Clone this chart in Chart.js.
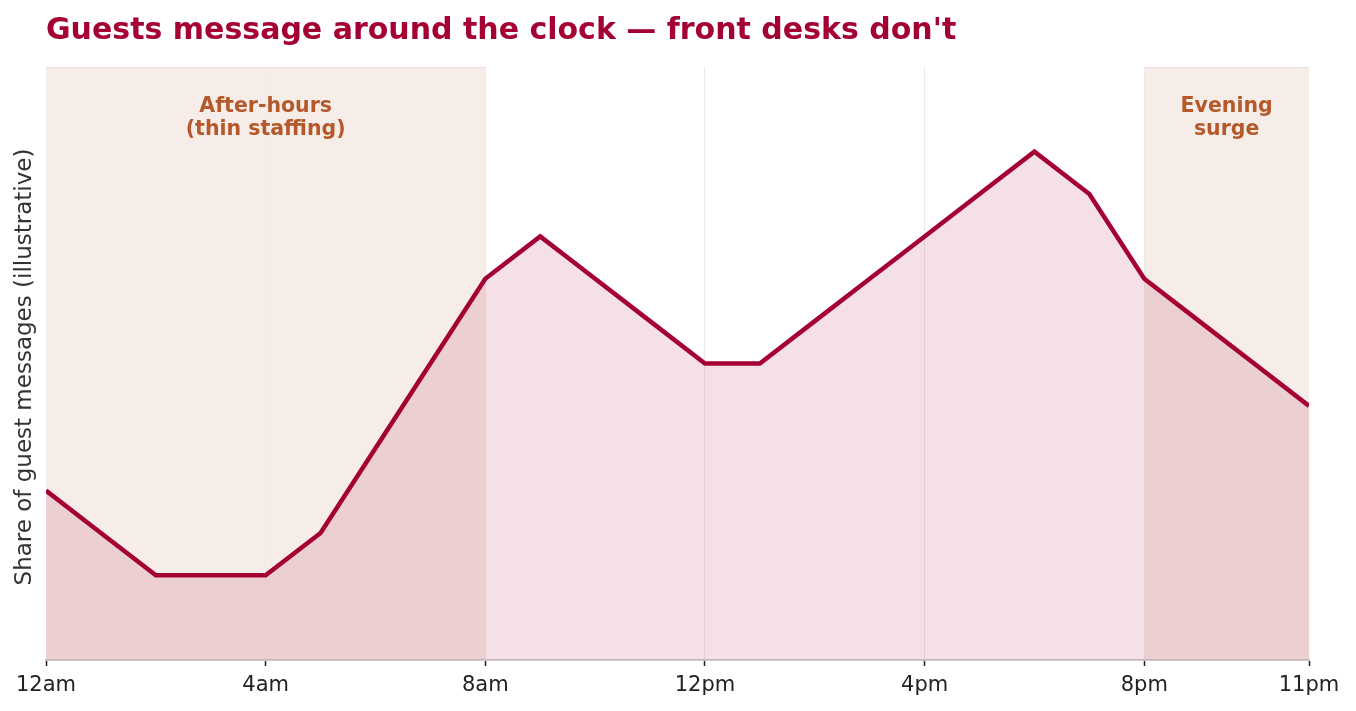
<!DOCTYPE html>
<html>
<head>
<meta charset="utf-8">
<script src="https://cdn.jsdelivr.net/npm/chart.js@4/dist/chart.umd.min.js"></script>
<style>
  html, body { margin: 0; padding: 0; background: #ffffff; }
  #wrap { position: relative; width: 1356px; height: 711px; }
</style>
</head>
<body>
<div id="wrap"><canvas id="c"></canvas></div>
<script>
// ---- data ----
const hours = [0,1,2,3,4,5,6,7,8,9,10,11,12,13,14,15,16,17,18,19,20,21,22,23];
const shareValues = [4,3,2,2,2,3,5,7,9,10,9,8,7,7,8,9,10,11,12,11,9,8,7,6];
const tickHours = [0,4,8,12,16,20,23];
const tickLabels = ['12am','4am','8am','12pm','4pm','8pm','11pm'];
const shadedRanges = [[0,8],[20,23]];
const shadedNotes = [['After-hours','(thin staffing)'],['Evening','surge']];
const titleText = "Guests message around the clock \u2014 front desks don't";
const yTitleText = 'Share of guest messages (illustrative)';

const FONT = '"DejaVu Sans", "Liberation Sans", sans-serif';

const bgPlugin = {
  id: 'bgRegions',
  beforeDraw(chart) {
    const { ctx, chartArea: a, scales: { x } } = chart;
    ctx.save();
    shadedRanges.forEach(([s, e]) => {
      const x0 = x.getPixelForValue(s), x1 = x.getPixelForValue(e);
      ctx.fillStyle = '#f6ede8';
      ctx.fillRect(x0, a.top, x1 - x0, a.bottom - a.top);
      ctx.fillStyle = '#ecdcdc';
      ctx.fillRect(x0, a.top, x1 - x0, 1);
    });
    ctx.restore();
  },
  afterDraw(chart) {
    const { ctx, chartArea: a, scales: { x } } = chart;
    ctx.save();
    // title
    ctx.fillStyle = '#a50034';
    ctx.font = 'bold 30px ' + FONT;
    ctx.textAlign = 'left';
    ctx.textBaseline = 'alphabetic';
    ctx.fillText(titleText, a.left, 39);
    // y title
    ctx.save();
    ctx.translate(25, 367);
    ctx.rotate(-Math.PI / 2);
    ctx.textAlign = 'center';
    ctx.textBaseline = 'middle';
    ctx.fillStyle = '#333333';
    ctx.font = '23px ' + FONT;
    ctx.fillText(yTitleText, 0, 0);
    ctx.restore();
    // region notes
    ctx.fillStyle = '#b5592a';
    ctx.font = 'bold 20.5px ' + FONT;
    ctx.textAlign = 'center';
    shadedRanges.forEach(([s, e], i) => {
      const cx = (x.getPixelForValue(s) + x.getPixelForValue(e)) / 2;
      ctx.fillText(shadedNotes[i][0], cx, a.top + 45);
      ctx.fillText(shadedNotes[i][1], cx, a.top + 68);
    });
    ctx.restore();
  }
};

new Chart(document.getElementById('c'), {
  type: 'line',
  data: {
    datasets: [{
      data: hours.map((h, i) => ({ x: h, y: shareValues[i] })),
      borderColor: '#a50034',
      borderWidth: 4.5,
      backgroundColor: 'rgba(165,0,52,0.12)',
      fill: 'origin',
      pointRadius: 0,
      tension: 0,
      borderJoinStyle: 'miter'
    }]
  },
  options: {
    responsive: true,
    maintainAspectRatio: false,
    animation: false,
    layout: { padding: { left: 46, right: 47, top: 67, bottom: 0 } },
    plugins: { legend: { display: false }, tooltip: { enabled: false }, title: { display: false } },
    scales: {
      x: {
        type: 'linear',
        min: 0, max: 23,
        afterBuildTicks(scale) { scale.ticks = tickHours.map(v => ({ value: v })); },
        afterFit(scale) { scale.height = 51; },
        ticks: {
          autoSkip: false, maxRotation: 0, padding: 7,
          color: '#222222',
          font: { family: FONT, size: 21 },
          callback: (v) => { const i = tickHours.indexOf(v); return i >= 0 ? tickLabels[i] : ''; }
        },
        grid: {
          color: (c) => (c.tick && (c.tick.value === 0 || c.tick.value === 23)) ? 'rgba(0,0,0,0)' : '#ebebeb',
          lineWidth: 1,
          tickColor: '#222222',
          tickLength: 6,
          tickWidth: 1.5
        },
        border: { color: '#cccccc', width: 2 }
      },
      y: { display: false, min: 0, max: 14 }
    }
  },
  plugins: [bgPlugin]
});
</script>
</body>
</html>
